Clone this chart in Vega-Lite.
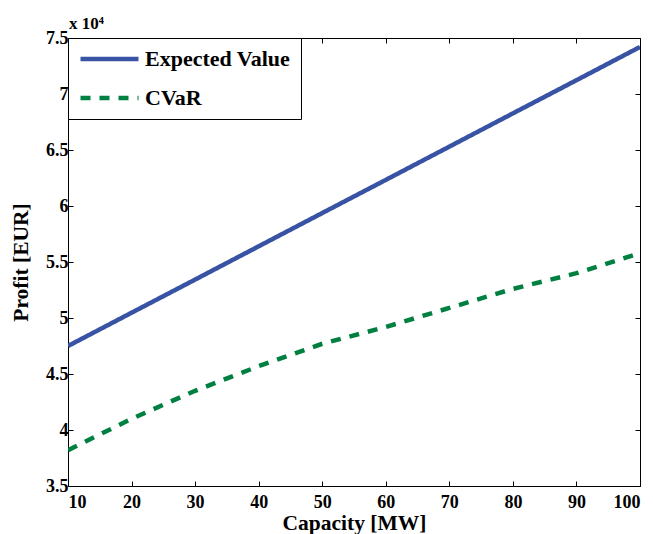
{
  "$schema": "https://vega.github.io/schema/vega-lite/v6.json",
  "width": 572,
  "height": 448,
  "autosize": {"type": "none"},
  "padding": {"left": 68, "top": 38, "right": 13, "bottom": 48},
  "background": "white",
  "title": {"text": "x 10⁴", "anchor": "start", "frame": "group", "font": "Liberation Serif", "fontSize": 17, "fontWeight": "bold", "offset": -4, "dx": 1, "color": "black"},
  "config": {
    "view": {"stroke": "black", "strokeWidth": 1},
    "axis": {
      "domain": false,
      "grid": false,
      "tickColor": "black",
      "tickSize": -5,
      "tickWidth": 1,
      "labelFont": "Liberation Serif",
      "labelFontSize": 18,
      "labelFontWeight": "bold",
      "labelColor": "black",
      "titleFont": "Liberation Serif",
      "titleFontSize": 21.5,
      "titleFontWeight": "bold",
      "titleColor": "black"
    },
    "legend": {
      "orient": "top-left",
      "offset": 0,
      "strokeColor": "black",
      "fillColor": "white",
      "padding": 10,
      "rowPadding": 17,
      "clipHeight": 22,
      "symbolType": "stroke",
      "symbolSize": 3364,
      "symbolStrokeWidth": 4.5,
      "labelFont": "Liberation Serif",
      "labelFontSize": 22,
      "labelFontWeight": "bold",
      "labelColor": "black",
      "labelOffset": 4,
      "labelLimit": 400
    }
  },
  "data": {
    "values": [
      {"capacity": 10, "profit": 47500, "series": "Expected Value"},
      {"capacity": 20, "profit": 50470, "series": "Expected Value"},
      {"capacity": 30, "profit": 53430, "series": "Expected Value"},
      {"capacity": 40, "profit": 56400, "series": "Expected Value"},
      {"capacity": 50, "profit": 59370, "series": "Expected Value"},
      {"capacity": 60, "profit": 62330, "series": "Expected Value"},
      {"capacity": 70, "profit": 65300, "series": "Expected Value"},
      {"capacity": 80, "profit": 68270, "series": "Expected Value"},
      {"capacity": 90, "profit": 71230, "series": "Expected Value"},
      {"capacity": 100, "profit": 74200, "series": "Expected Value"},
      {"capacity": 10, "profit": 38200, "series": "CVaR"},
      {"capacity": 20, "profit": 41000, "series": "CVaR"},
      {"capacity": 30, "profit": 43500, "series": "CVaR"},
      {"capacity": 40, "profit": 45700, "series": "CVaR"},
      {"capacity": 50, "profit": 47700, "series": "CVaR"},
      {"capacity": 60, "profit": 49200, "series": "CVaR"},
      {"capacity": 70, "profit": 50900, "series": "CVaR"},
      {"capacity": 80, "profit": 52600, "series": "CVaR"},
      {"capacity": 90, "profit": 54000, "series": "CVaR"},
      {"capacity": 100, "profit": 55800, "series": "CVaR"}
    ]
  },
  "layer": [
    {
      "mark": {"type": "line", "strokeWidth": 4.5, "strokeCap": "butt", "clip": true},
      "encoding": {
        "x": {
          "field": "capacity", "type": "quantitative",
          "scale": {"domain": [10, 100], "nice": false, "zero": false},
          "axis": {"title": "Capacity [MW]", "values": [10, 20, 30, 40, 50, 60, 70, 80, 90, 100], "labelPadding": 12, "titlePadding": 1}
        },
        "y": {
          "field": "profit", "type": "quantitative",
          "scale": {"domain": [35000, 75000], "nice": false, "zero": false},
          "axis": {"title": "Profit [EUR]", "values": [35000, 40000, 45000, 50000, 55000, 60000, 65000, 70000, 75000], "labelExpr": "format(datum.value / 10000, '.2~f')", "labelPadding": 5, "titlePadding": 13}
        },
        "color": {
          "field": "series", "type": "nominal",
          "scale": {"domain": ["Expected Value", "CVaR"], "range": ["#3853A4", "#008040"]},
          "legend": {"title": null}
        },
        "strokeDash": {
          "field": "series", "type": "nominal",
          "scale": {"domain": ["Expected Value", "CVaR"], "range": [[1, 0], [10, 9]]},
          "legend": {"title": null}
        }
      }
    },
    {
      "mark": {"type": "line", "opacity": 0},
      "encoding": {
        "x": {
          "field": "capacity", "type": "quantitative",
          "scale": {"domain": [10, 100], "nice": false, "zero": false},
          "axis": {"orient": "top", "title": null, "labels": false, "values": [10, 20, 30, 40, 50, 60, 70, 80, 90, 100]}
        },
        "y": {
          "field": "profit", "type": "quantitative",
          "scale": {"domain": [35000, 75000], "nice": false, "zero": false},
          "axis": {"orient": "right", "title": null, "labels": false, "values": [35000, 40000, 45000, 50000, 55000, 60000, 65000, 70000, 75000]}
        }
      }
    }
  ],
  "resolve": {"scale": {"x": "independent", "y": "independent"}}
}
